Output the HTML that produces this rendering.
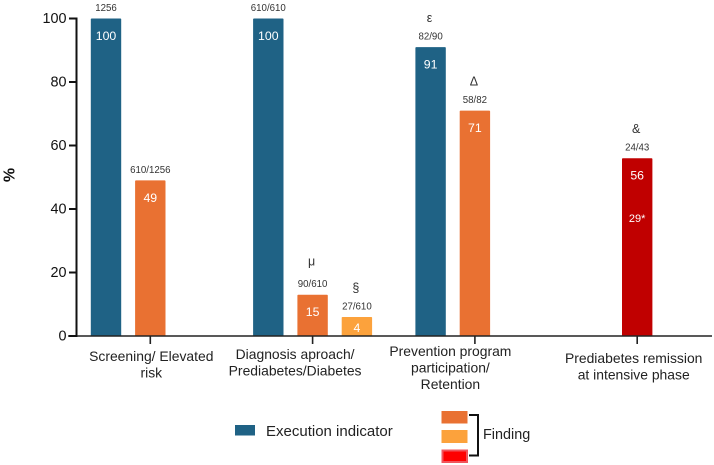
<!DOCTYPE html>
<html lang="en">
<head>
<meta charset="utf-8">
<title>Execution indicators and findings</title>
<style>
  html, body { margin: 0; padding: 0; background: #fff; }
  body { width: 714px; height: 465px; overflow: hidden; }
  svg { display: block; font-family: "Liberation Sans", "DejaVu Sans", sans-serif; filter: blur(0.3px); }
</style>
</head>
<body>
<svg id="chart" width="714" height="465" viewBox="0 0 714 465" xmlns="http://www.w3.org/2000/svg">
  <g id="bars"></g>
  <g id="axes"></g>
  <text transform="translate(14.5,175) rotate(-90)" text-anchor="middle" font-size="16" font-weight="bold" fill="#111">%</text>
  <g>
    <rect x="235" y="425" width="20" height="10.5" fill="#1f6285"></rect>
    <text x="266" y="436" font-size="15" fill="#222">Execution indicator</text>
    <rect x="441.5" y="411" width="26" height="12.5" fill="#e97132"></rect>
    <rect x="441.5" y="430" width="26" height="13" fill="#fca23c"></rect>
    <rect x="442.5" y="450.5" width="24.5" height="11.5" fill="#fe0000" stroke="#f0555c" stroke-width="2"></rect>
    <path d="M469 415 H478 V455.5 H469" fill="none" stroke="#111" stroke-width="2"></path>
    <text x="483" y="439" font-size="14.4" fill="#222">Finding</text>
  </g>
</svg>
<script>
const categoryLines = [
  ['Screening/ Elevated', 'risk'],
  ['Diagnosis aproach/', 'Prediabetes/Diabetes'],
  ['Prevention program', 'participation/', 'Retention'],
  ['Prediabetes remission', 'at intensive phase']
];
const yTickValues = [0, 20, 40, 60, 80, 100];
const barCategory = [0, 0, 1, 1, 1, 2, 2, 3];
const barSeries = ['execution', 'finding', 'execution', 'finding', 'findingAlt', 'execution', 'finding', 'remission'];
const barValues = [100, 49, 100, 13, 6, 91, 71, 56];
const barPrinted = ['100', '49', '100', '15', '4', '91', '71', '56'];
const barCounts = ['1256', '610/1256', '610/610', '90/610', '27/610', '82/90', '58/82', '24/43'];
const barSymbols = ['', '', '', 'μ', '§', 'ε', 'Δ', '&'];
const barNotes = ['', '', '', '', '', '', '', '29*'];

const NS = 'http://www.w3.org/2000/svg';
const seriesColor = { execution: '#1f6285', finding: '#e97132', findingAlt: '#fca23c', remission: '#c00000' };
const seriesSlot = { execution: -1, finding: 0, findingAlt: 1, remission: 0 };
const barsLayer = document.getElementById('bars');
const axesLayer = document.getElementById('axes');

function yScale(v) { return 336 - v * 3.175; }
function xCategory(i) { return 150.3 + i * 162.3; }
function xBar(i) { return xCategory(barCategory[i]) + seriesSlot[barSeries[i]] * 44.3; }

function svgEl(tag, attrs, parent, content) {
  const el = document.createElementNS(NS, tag);
  Object.keys(attrs).forEach(function (k) { el.setAttribute(k, attrs[k]); });
  if (content !== undefined) el.textContent = content;
  parent.appendChild(el);
  return el;
}

barValues.forEach(function (v, i) {
  const cx = xBar(i);
  const top = yScale(v);
  const base = yScale(0);
  const rect = svgEl('rect', { x: cx - 15.2, y: top, width: 30.4, height: base - top, rx: 0.8, fill: seriesColor[barSeries[i]] }, barsLayer);
  
  

  const valueY = Math.min(top + 21.5, base - 4);
  const valueLabel = svgEl('text', { x: cx, y: valueY, 'text-anchor': 'middle', 'font-size': 12.3, fill: '#fff' }, barsLayer, barPrinted[i]);
  
  

  const countLabel = svgEl('text', { x: cx, y: top - 7.5, 'text-anchor': 'middle', 'font-size': 9.7, fill: '#333' }, barsLayer, barCounts[i]);
  
  

  if (barSymbols[i]) {
    const symbolLift = barSymbols[i] === 'μ' ? 29 : 25;
    const symbol = svgEl('text', { x: cx - 1, y: top - symbolLift, 'text-anchor': 'middle', 'font-size': 12.5, fill: '#333' }, barsLayer, barSymbols[i]);
    
    
  }
  if (barNotes[i]) {
    const note = svgEl('text', { x: cx, y: top + 64, 'text-anchor': 'middle', 'font-size': 11, fill: '#fff' }, barsLayer, barNotes[i]);
    
    
  }
});

const yAxisLine = svgEl('line', { x1: 76.5, x2: 76.5, y1: yScale(100) - 1, y2: yScale(0) + 1, stroke: '#111', 'stroke-width': 2 }, axesLayer);



const xAxisLine = svgEl('line', { x1: 68, x2: 712, y1: yScale(0), y2: yScale(0), stroke: '#222', 'stroke-width': 1.6 }, axesLayer);



yTickValues.forEach(function (t) {
  const y = yScale(t);
  const tick = svgEl('line', { x1: 69, x2: 77, y1: y, y2: y, stroke: '#111', 'stroke-width': 2 }, axesLayer);
  
  
  const label = svgEl('text', { x: 66.5, y: y + 4.5, 'text-anchor': 'end', 'font-size': 14.4, fill: '#111' }, axesLayer, String(t));
  
  
});

const categoryLabelShift = [1, -17.5, -24.5, -3.5];
const categoryLabelBaseline = [361, 359, 356, 363];
categoryLines.forEach(function (lines, i) {
  const cx = xCategory(i);
  const tick = svgEl('line', { x1: cx, x2: cx, y1: yScale(0), y2: yScale(0) + 8, stroke: '#222', 'stroke-width': 1.6 }, axesLayer);
  
  
  lines.forEach(function (line, j) {
    const label = svgEl('text', { x: cx + categoryLabelShift[i], y: categoryLabelBaseline[i] + j * 16.5, 'text-anchor': 'middle', 'font-size': 13.9, fill: '#222' }, axesLayer, line);
    
    
  });
});
</script>
</body>
</html>
